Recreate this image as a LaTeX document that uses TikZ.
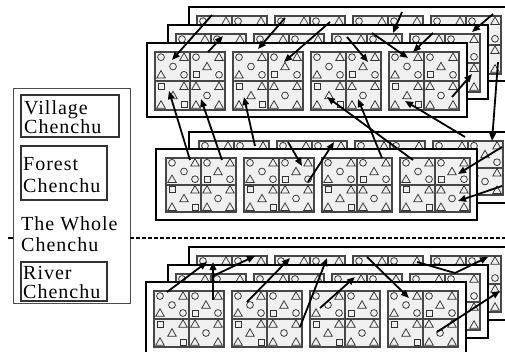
\documentclass[tikz,border=0pt]{standalone}
\usepackage{fontspec}
\setmainfont{Liberation Serif}[LetterSpace=5.0]
\usetikzlibrary{arrows.meta}
\tikzset{
  shline/.style={draw=black!80, line width=0.75pt},
  tri/.pic={\draw[shline] (-4.3,3.3) -- (0,-4.2) -- (4.3,3.3) -- cycle;},
  circ/.pic={\draw[shline] (0,0) circle[radius=3.4];},
  sqr/.pic={\draw[shline] (-3,-3) rectangle (3,3);},
  cellline/.style={draw=black!72, line width=1.1pt},
  cell/.pic={
    \draw[cellline, fill=black!6] (0,0) rectangle (70,56);
    \draw[cellline] (35,0) -- (35,56) (0,28) -- (70,28);
    \foreach \s/\x/\y in {circ/6/5, tri/29/5, circ/41/5, tri/64/5,
        circ/18/14, tri/52/14, tri/6/22, circ/29/22, sqr/41/22, circ/64/22,
        sqr/6/33, tri/29/33, tri/41/33, tri/64/33, tri/18/42, circ/52/42,
        tri/6/51, sqr/29/51, tri/41/51, tri/64/51}
      {\pic at (\x,\y) {\s};}
  },
  frm/.style={draw=black, line width=1.8pt, fill=white},
  arr/.style={line width=1.8pt, -{Triangle[length=8pt,width=6.5pt]}},
  lbl/.style={anchor=base west, inner sep=0pt, font=\fontsize{20}{19}\selectfont},
  lblbox/.style={draw=black!80, line width=1.3pt},
  leftbox/.style={draw=black!70, line width=1pt}
}
\newcommand{\chframe}[7]{%
  \draw[frm] (#1,#2) rectangle (#3,#4);
  \foreach \k in {0,1,2,3} {\pic[yscale=#7] at ({#5+78*\k},#6) {cell};}
}
\begin{document}
\begin{tikzpicture}[x=1pt,y=-1pt]
\useasboundingbox (0,0) rectangle (505,351);
\clip (0,0) rectangle (505,351);

% left panel
\draw[leftbox] (13,88) rectangle (130,303);
\draw[lblbox] (21,95) rectangle (119,137);
\draw[lblbox] (21,146) rectangle (107,200);
\draw[lblbox] (21,262) rectangle (107,301);
\node[lbl] (v1) at (24,114) {Village};
\node[lbl] (v2) at (24,133) {Chenchu};
\node[lbl] (f1) at (23,170) {Forest};
\node[lbl] (f2) at (23,192) {Chenchu};
\node[lbl] (w1) at (21,230) {The Whole};
\node[lbl] (w2) at (21,251) {Chenchu};
\node[lbl] (r1) at (23,279) {River};
\node[lbl] (r2) at (23,298) {Chenchu};

% dashed separator
\draw[line width=1.2pt, dash pattern=on 4pt off 2pt] (130,238) -- (505,238);
\draw[line width=1.2pt] (8,238) -- (13,238);

% top group
\chframe{189}{7}{509}{81}{197}{16}{1.036}
\chframe{168}{25}{488}{99}{176}{34}{1.036}
\chframe{147}{43}{467}{117}{155}{52}{1.036}
% middle group
\chframe{189}{132}{510}{203}{199}{141}{0.964}
\chframe{156}{149}{477}{220}{166}{158}{0.964}
% bottom group
\chframe{189}{247}{509}{320}{197}{256}{1}
\chframe{168}{265}{488}{338}{176}{274}{1}
\chframe{146}{282}{466}{356}{154}{291}{1}

% arrows, top group
\draw[arr] (212,15) -- (172,60);
\draw[arr] (208,52) -- (223,36);
\draw[arr] (285,18) -- (258,49);
\draw[arr] (330,22) -- (284,62);
\draw[arr] (402,12) -- (393,33);
\draw[arr] (347,37) -- (368,62);
\draw[arr] (372,33) -- (408,58);
\draw[arr] (433,33) -- (413,52);
\draw[arr] (493,14) -- (472,32);
\draw[arr] (452,97) -- (472,74);
\draw[arr] (498,62) -- (492,141);
% arrows between top and middle
\draw[arr] (190,160) -- (169,91);
\draw[arr] (222,160) -- (201,99);
\draw[arr] (255,146) -- (244,97);
\draw[arr] (413,160) -- (327,97);
\draw[arr] (382,158) -- (358,99);
\draw[arr] (465,137) -- (405,101);
% arrows, middle group
\draw[arr] (502,147) -- (458,174);
\draw[arr] (502,186) -- (458,201);
\draw[arr] (288,142) -- (302,166);
\draw[arr] (308,182) -- (334,142);
% arrows, bottom group
\draw[arr] (167,292) -- (207,262);
\draw[arr] (213,300) -- (213,262);
\draw[arr] (213,276) -- (255,256);
\draw[arr] (247,302) -- (290,258);
\draw[arr] (300,327) -- (327,258);
\draw[arr] (320,308) -- (355,277);
\draw[arr] (367,257) -- (409,298);
\draw[arr] (417,262) -- (455,273) -- (488,257);
\draw[arr] (437,332) -- (500,291);
\end{tikzpicture}
\end{document}
